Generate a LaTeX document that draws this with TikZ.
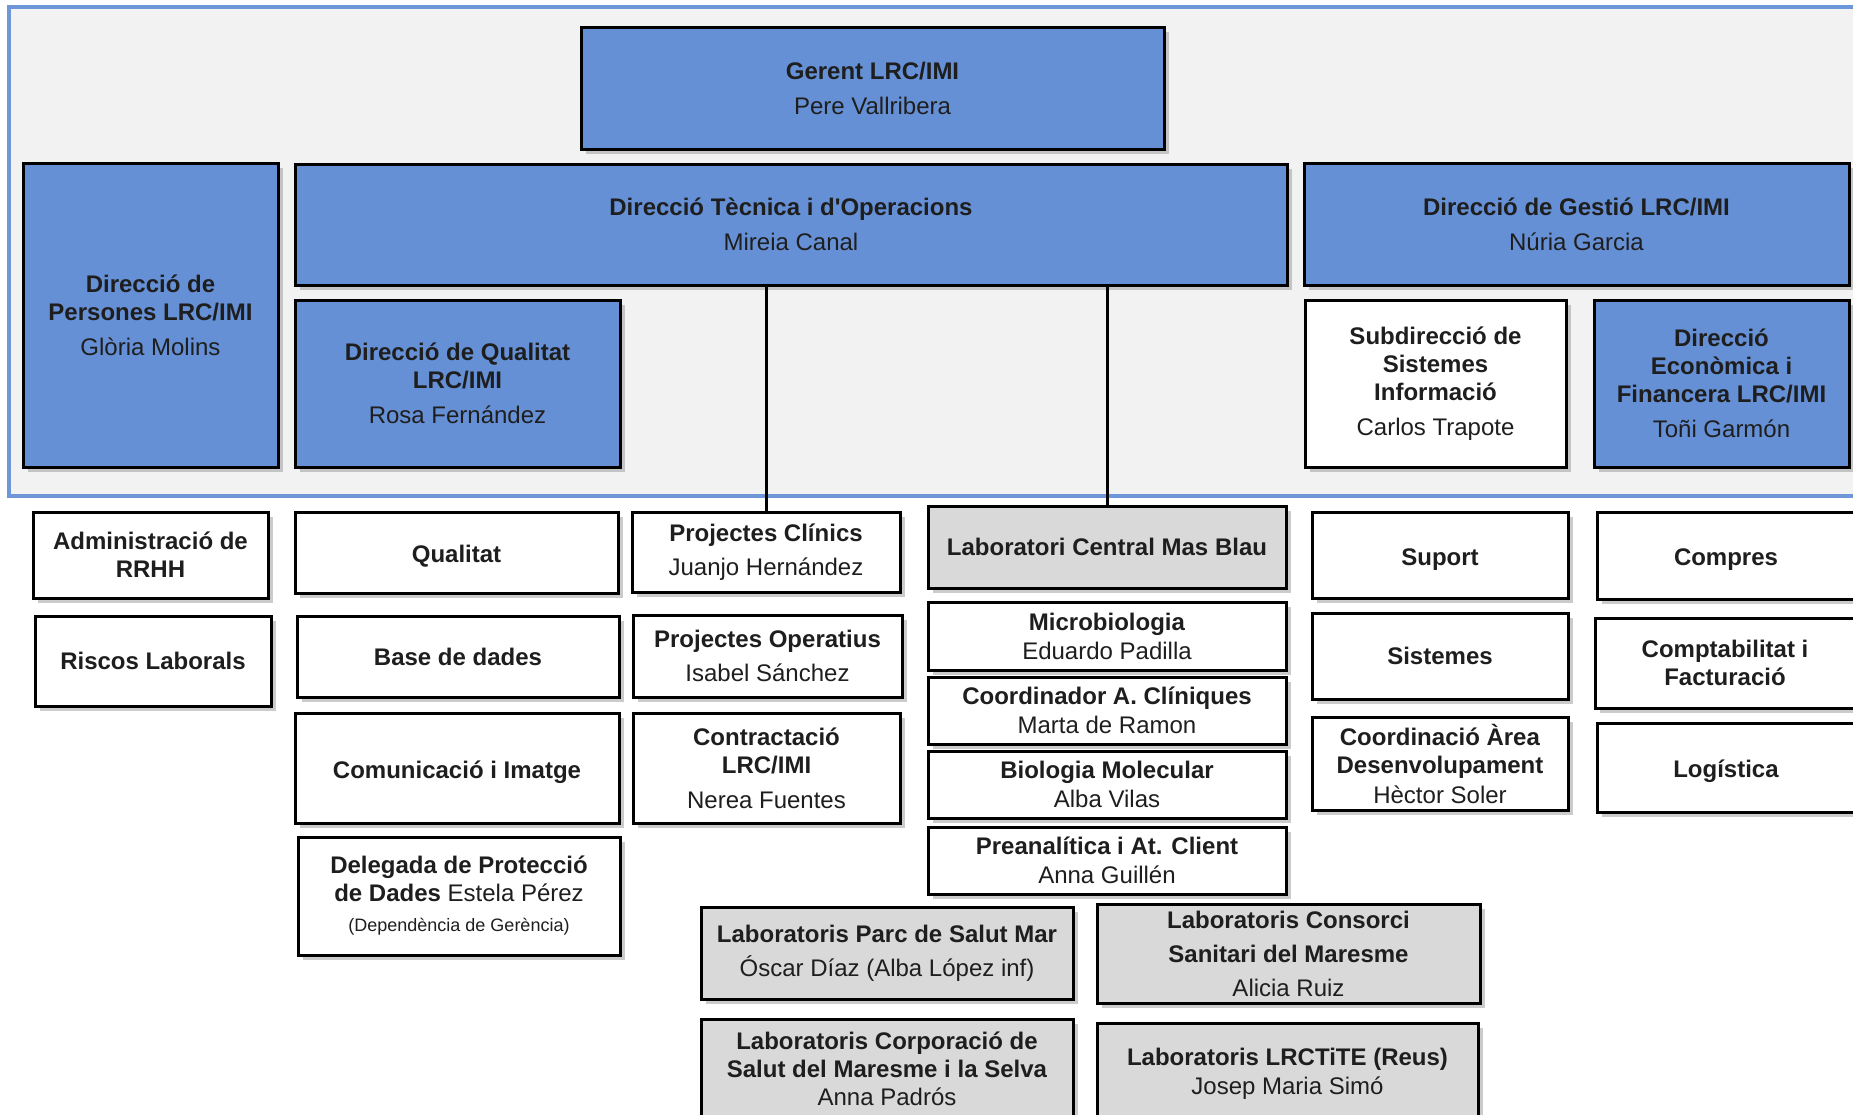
\documentclass[tikz,border=0pt]{standalone}
\usepackage{fontspec}
\setmainfont{Liberation Sans}[Ligatures=TeXOff]
\usepackage{tikz}
\usetikzlibrary{shapes,arrows,positioning,shadows}
\definecolor{boxblue}{HTML}{6690D5}
\definecolor{frameblue}{HTML}{6E97D9}
\definecolor{framefill}{HTML}{F2F2F2}
\definecolor{labgray}{HTML}{D9D9D9}
\definecolor{inktext}{HTML}{1E1E1E}
\tikzstyle{box} = [rectangle, draw=black, line width=1.5pt, align=center, inner sep=1pt,
  text=inktext, font=\fontsize{12}{14}\selectfont,
  drop shadow={shadow xshift=2.5pt, shadow yshift=-2.5pt, fill=black!45, opacity=0.45}]
\tikzstyle{bluebox} = [box, fill=boxblue]
\tikzstyle{whitebox} = [box, fill=white]
\tikzstyle{graybox} = [box, fill=labgray]
\tikzstyle{lowtext} = [text height=10pt, text depth=0pt]
\tikzstyle{frame} = [draw=frameblue, line width=2pt, fill=framefill]
\tikzstyle{line} = [draw, line width=1.5pt]
\tikzset{boxsize/.style 2 args={minimum width=#1*0.5pt, minimum height=#2*0.5pt}}

\begin{document}
\begin{tikzpicture}[x=0.5pt, y=-0.5pt]
			\useasboundingbox (0,0) rectangle (1853,1114);
			\clip (0,0) rectangle (1853,1114);
			% direction frame
			\path [frame] (9,7) rectangle (1875,496);

			\node [bluebox, boxsize={583}{122}] (gerent) at (872.5,88) {\textbf{Gerent LRC/IMI}\\[3.5pt]Pere Vallribera};
			\node [bluebox, boxsize={255}{304}] (persones) at (150.5,315) {\textbf{Direcció de}\\\textbf{Persones LRC/IMI}\\[3.5pt]Glòria Molins};
			\node [bluebox, boxsize={992}{121}] (tecnica) at (791,224.5) {\textbf{Direcció Tècnica i d'Operacions}\\[3.5pt]Mireia Canal};
			\node [bluebox, boxsize={325}{167}] (qualitatdir) at (457.5,383.5) {\textbf{Direcció de Qualitat}\\\textbf{LRC/IMI}\\[3.5pt]Rosa Fernández};
			\node [bluebox, boxsize={545}{122}] (gestio) at (1576.5,224) {\textbf{Direcció de Gestió LRC/IMI}\\[3.5pt]Núria Garcia};
			\node [whitebox, boxsize={261}{167}] (subdir) at (1435.5,383.5) {\textbf{Subdirecció de}\\\textbf{Sistemes}\\\textbf{Informació}\\[3.5pt]Carlos Trapote};
			\node [bluebox, boxsize={255}{167}] (economica) at (1721.5,383.5) {\textbf{Direcció}\\\textbf{Econòmica i}\\\textbf{Financera LRC/IMI}\\[3.5pt]Toñi Garmón};

			% persones
			\node [whitebox, boxsize={235}{86}] (admin) at (150.5,555) {\textbf{Administració de}\\\textbf{RRHH}};
			\node [whitebox, boxsize={236}{90}] (riscos) at (153,661) {\textbf{Riscos Laborals}};

			% qualitat
			\node [whitebox, lowtext, boxsize={323}{81}] (qualitat) at (456.5,552.5) {\textbf{Qualitat}};
			\node [whitebox, boxsize={322}{81}] (basedades) at (458,656.5) {\textbf{Base de dades}};
			\node [whitebox, lowtext, boxsize={324}{110}] (comunicacio) at (457,768) {\textbf{Comunicació i Imatge}};
			\node [whitebox, boxsize={322}{118}] (delegada) at (459,896) {\textbf{Delegada de Protecció}\\\textbf{de Dades} Estela Pérez\\[1pt]{\fontsize{9}{11}\selectfont (Dependència de Gerència)}};

			% projectes
			\node [whitebox, boxsize={268}{80}] (projclinics) at (766,552) {\textbf{Projectes Clínics}\\[3pt]Juanjo Hernández};
			\node [whitebox, boxsize={269}{82}] (projoper) at (767.5,656) {\textbf{Projectes Operatius}\\[3pt]Isabel Sánchez};
			\node [whitebox, boxsize={267}{110}] (contractacio) at (766.5,768) {\textbf{Contractació}\\\textbf{LRC/IMI}\\[3.5pt]Nerea Fuentes};

			% laboratori central
			\node [graybox, boxsize={358}{82}] (labcentral) at (1107,547) {\textbf{Laboratori Central Mas Blau}};
			\node [whitebox, boxsize={358}{68}] (micro) at (1107,636) {\textbf{Microbiologia}\\[0.5pt]Eduardo Padilla};
			\node [whitebox, boxsize={358}{67}] (coord) at (1107,710.5) {\textbf{Coordinador A. Clíniques}\\[0.5pt]Marta de Ramon};
			\node [whitebox, boxsize={358}{67}] (biologia) at (1107,784.5) {\textbf{Biologia Molecular}\\[0.5pt]Alba Vilas};
			\node [whitebox, boxsize={358}{67}] (preanal) at (1107,860.5) {\textbf{Preanalítica i At. Client}\\[0.5pt]Anna Guillén};

			% laboratoris territorials
			\node [graybox, boxsize={372}{92}] (parc) at (887,953) {\textbf{Laboratoris Parc de Salut Mar}\\[3pt]Óscar Díaz (Alba López inf)};
			\node [graybox, boxsize={383}{99}] (consorci) at (1288.5,953.5) {\textbf{Laboratoris Consorci}\\[3pt]\textbf{Sanitari del Maresme}\\[3pt]Alicia Ruiz};
			\node [graybox, boxsize={372}{111}] (corporacio) at (887,1074.5) {\textbf{Laboratoris Corporació de}\\\textbf{Salut del Maresme i la Selva}\\Anna Padrós\\[-8pt]\mbox{}};
			\node [graybox, boxsize={381}{107}] (lrctite) at (1287.5,1076.5) {\textbf{Laboratoris LRCTiTE (Reus)}\\[0.5pt]Josep Maria Simó\\[-9pt]\mbox{}};

			% sistemes
			\node [whitebox, lowtext, boxsize={256}{86}] (suport) at (1440,555) {\textbf{Suport}};
			\node [whitebox, boxsize={256}{86}] (sistemes) at (1440,656) {\textbf{Sistemes}};
			\node [whitebox, boxsize={256}{93}] (coordarea) at (1440,763.5) {\textbf{Coordinació Àrea}\\\textbf{Desenvolupament}\\[1pt]Hèctor Soler};

			% economica
			\node [whitebox, lowtext, boxsize={258}{87}] (compres) at (1726,555.5) {\textbf{Compres}};
			\node [whitebox, boxsize={260}{90}] (comptab) at (1725,663) {\textbf{Comptabilitat i}\\\textbf{Facturació}};
			\node [whitebox, lowtext, boxsize={258}{89}] (logistica) at (1726,767.5) {\textbf{Logística}};

			\path [line] (tecnica.south -| projclinics.north) -- (projclinics.north);
			\path [line] (tecnica.south -| labcentral.north) -- (labcentral.north);
		\end{tikzpicture}
\end{document}
